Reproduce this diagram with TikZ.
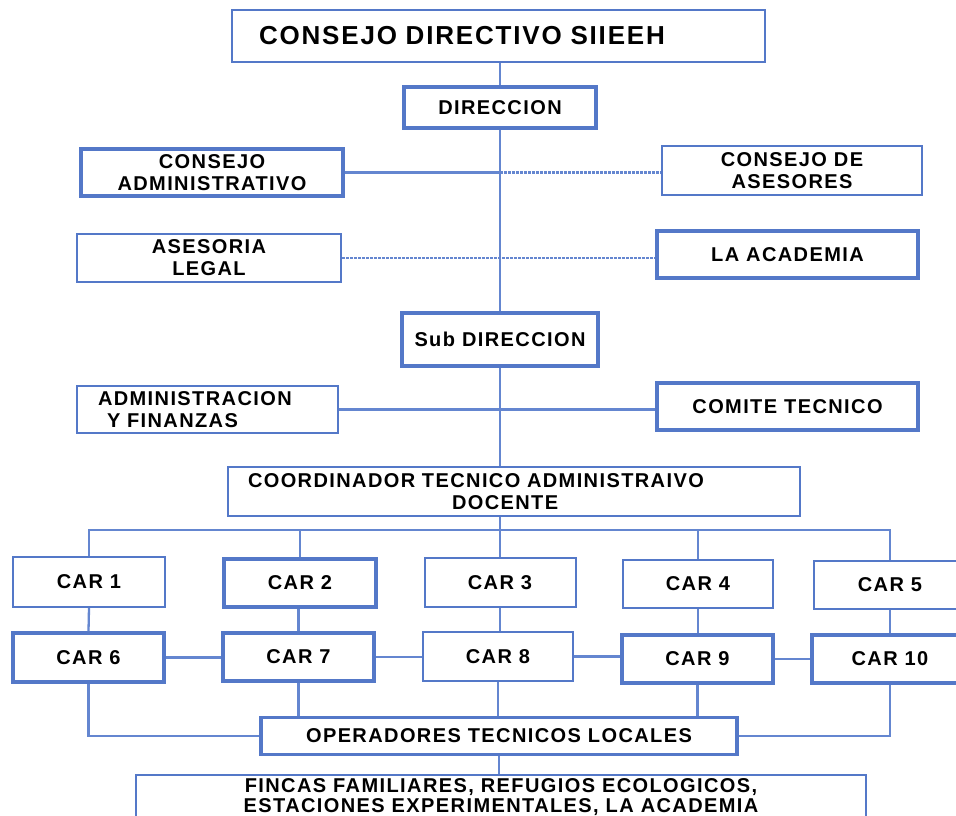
\documentclass[tikz,border=0pt]{standalone}
\usepackage{fontspec}
\setmainfont{Liberation Sans}[LetterSpace=7]
\usepackage{tikz}
\usetikzlibrary{positioning}

\definecolor{orgblue}{RGB}{84,120,200}
\definecolor{linkblue}{RGB}{100,134,208}

\begin{document}
\begin{tikzpicture}[x=1pt,y=-1pt,
		box/.style={draw=orgblue,line width=2pt,fill=white,align=center,inner sep=0pt,
			font=\bfseries\fontsize{20}{22}\selectfont},
		thickbox/.style={box,line width=3.4pt},
		link/.style={draw=linkblue,line width=2.3pt},
		dotlink/.style={link,dash pattern=on 2.5pt off 1.5pt}
	]
	\useasboundingbox (0,0) rectangle (956,816);
	\clip (0,0) rectangle (956,816);
	
	% cabeza
	\node[box,text width=479pt,inner xsep=27pt,minimum height=52pt,align=left,
		font=\bfseries\fontsize{26}{30}\selectfont] (cds) at (498.5,36) {CONSEJO DIRECTIVO SIIEEH};
	\node[thickbox,minimum width=192pt,minimum height=41pt] (dir) at (500,107.5) {DIRECCION};
	\node[thickbox,minimum width=262pt,minimum height=47pt] (ca) at (212,172.5) {CONSEJO\\ADMINISTRATIVO};
	\node[box,minimum width=260pt,minimum height=49pt] (cda) at (792,170.5) {CONSEJO DE\\ASESORES};
	\node[box,minimum width=264pt,minimum height=48pt] (al) at (209,258) {ASESORIA\\LEGAL};
	\node[thickbox,minimum width=261pt,minimum height=47pt] (aca) at (787.5,254.5) {LA ACADEMIA};
	\node[thickbox,minimum width=196pt,minimum height=53pt] (sub) at (500,339.5) {Sub DIRECCION};
	\node[box,text width=219pt,inner xsep=21pt,minimum height=47pt,align=left] (af) at (207.5,409.5)
		{ADMINISTRACION\\\hspace*{9pt}Y FINANZAS};
	\node[thickbox,minimum width=261pt,minimum height=47pt] (ct) at (787.5,406.5) {COMITE TECNICO};
	\node[box,text width=532pt,inner xsep=20pt,minimum height=49pt,align=left] (coord) at (514,491.5)
		{COORDINADOR TECNICO ADMINISTRAIVO\\\hspace*{204pt}DOCENTE};
	
	% CAR
	\node[box,minimum width=152pt,minimum height=50pt] (car1) at (89,582) {CAR 1};
	\node[thickbox,minimum width=152pt,minimum height=48pt] (car2) at (300,583) {CAR 2};
	\node[box,minimum width=151pt,minimum height=49pt] (car3) at (500,582.5) {CAR 3};
	\node[box,minimum width=150pt,minimum height=48pt] (car4) at (698,584) {CAR 4};
	\node[box,minimum width=152pt,minimum height=48pt] (car5) at (890,585) {CAR 5};
	\node[thickbox,minimum width=151pt,minimum height=49pt] (car6) at (88.5,657.5) {CAR 6};
	\node[thickbox,minimum width=151pt,minimum height=48pt] (car7) at (298.5,657) {CAR 7};
	\node[box,minimum width=150pt,minimum height=49pt] (car8) at (498,656.5) {CAR 8};
	\node[thickbox,minimum width=151pt,minimum height=48pt] (car9) at (697.5,659) {CAR 9};
	\node[thickbox,minimum width=156pt,minimum height=48pt] (car10) at (890,659) {CAR 10};
	
	\node[thickbox,minimum width=476pt,minimum height=37pt] (otl) at (499,736) {OPERADORES TECNICOS LOCALES};
	\node[box,minimum width=730pt,minimum height=44pt,font=\bfseries\fontsize{20}{20.5}\selectfont] (fincas) at (501,797)
		{FINCAS FAMILIARES, REFUGIOS ECOLOGICOS,\\ESTACIONES EXPERIMENTALES, LA ACADEMIA};
	
	% tronco
	\path[link] (cds.south -| dir.north) -- (dir.north);
	\path[link] (dir.south) -- (sub.north);
	\path[link] (sub.south) -- (sub.south |- coord.north);
	\path[link] (ca.east) -- (ca.east -| dir.south);
	\path[dotlink] (ca.east -| dir.south) -- (ca.east -| cda.west);
	\path[dotlink] (al.east) -- (al.east -| aca.west);
	\path[link] (af.east) -- (af.east -| ct.west);
	
	\coordinate (bus) at (500,530);
	\path[link] (coord.south -| bus) -- (car3.north);
	\path[link] (car1.north) |- (bus) -| (car5.north);
	\path[link] (car2.north) -- (car2.north |- bus);
	\path[link] (car4.north) -- (car4.north |- bus);
	
	\path[link] (car1.south) -- (car6.north);
	\path[link] (car7.north |- car2.south) -- (car7.north);
	\path[link] (car3.south) -- (car3.south |- car8.north);
	\path[link] (car4.south) -- (car4.south |- car9.north);
	\path[link] (car5.south) -- (car10.north);
	
	\path[link] (car6.east) -- (car6.east -| car7.west);
	\path[link] (car7.east) -- (car7.east -| car8.west);
	\path[link] (car8.east) -- (car8.east -| car9.west);
	\path[link] (car9.east) -- (car9.east -| car10.west);
	
	\path[link] (car6.south) |- (otl.west);
	\path[link] (car10.south) |- (otl.east);
	\path[link] (car7.south) -- (car7.south |- otl.north);
	\path[link] (car8.south) -- (car8.south |- otl.north);
	\path[link] (car9.south) -- (car9.south |- otl.north);
	\path[link] (otl.south) -- (otl.south |- fincas.north);
\end{tikzpicture}
\end{document}
